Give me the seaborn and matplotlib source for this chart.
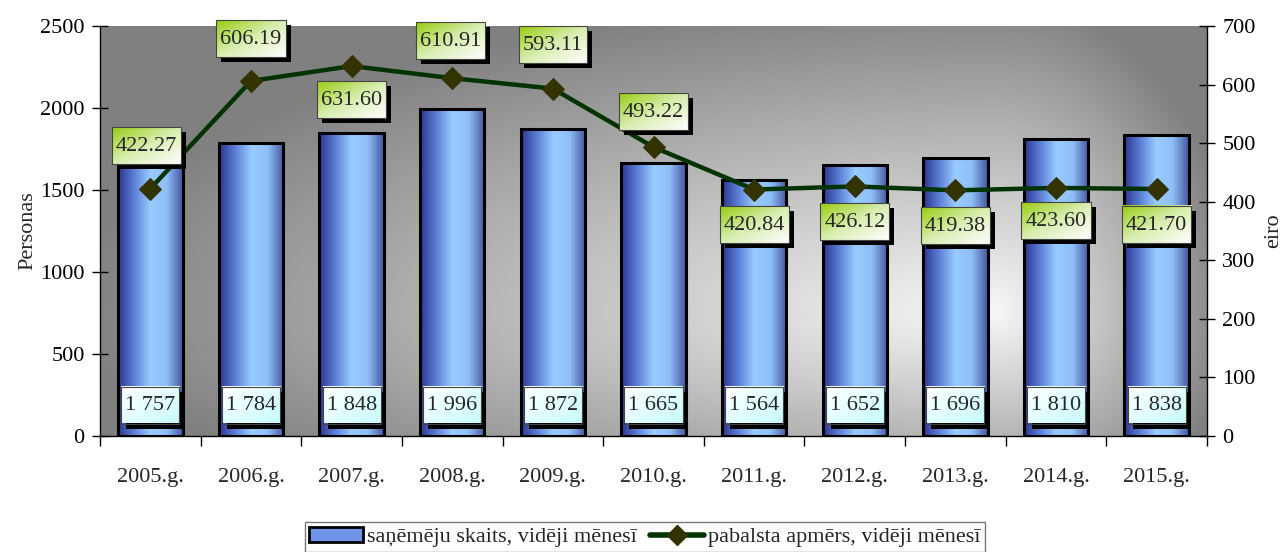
import numpy as np
import matplotlib
matplotlib.use("Agg")
import matplotlib.pyplot as plt
import seaborn as sns
from matplotlib.colors import LinearSegmentedColormap
from matplotlib.patches import Rectangle, Patch
from matplotlib.lines import Line2D

# ---------------------------------------
# Data
# ---------------------------------------
years = ["2005.g.", "2006.g.", "2007.g.", "2008.g.", "2009.g.", "2010.g.",
         "2011.g.", "2012.g.", "2013.g.", "2014.g.", "2015.g."]
recipients = [1757, 1784, 1848, 1996, 1872, 1665, 1564, 1652, 1696, 1810, 1838]
benefit = [422.27, 606.19, 631.60, 610.91, 593.11, 493.22,
           420.84, 426.12, 419.38, 423.60, 421.70]
# label offsets (pixels) for the line labels: up / down
line_lbl_dy = [42, 41, -34, 37, 43, 35, -36, -36, -36, -34, -36]
line_lbl_dx = [-4, 0, 0, -2, 0, 0, 0, 0, 0, 0, 0]

sns.set_style("ticks")
plt.rcParams["font.family"] = ["Liberation Serif", "DejaVu Serif"]
plt.rcParams["font.size"] = 16

fig = plt.figure(figsize=(12.85, 5.52), dpi=100)
ax = fig.add_axes([100 / 1285, 1 - 436 / 552, 1107 / 1285, 410 / 552])
ax2 = ax.twinx()

# ---------------------------------------
# Background gradient (plot area)
# ---------------------------------------
X, Y = np.meshgrid(np.linspace(0, 1, 400), np.linspace(0, 1, 200))
dx = np.where(X < 0.81, (X - 0.81) / 0.85, (X - 0.81) / 0.22)
dy = np.where(Y > 0.3, (Y - 0.3) / 0.78, (Y - 0.3) / 0.55)
v = np.clip(np.sqrt(dx ** 2 + dy ** 2), 0, 1)
bg = 0.97 - 0.47 * v
ax.imshow(bg, cmap="gray", vmin=0, vmax=1, extent=[0, 1, 0, 1], origin="lower",
          transform=ax.transAxes, aspect="auto", zorder=0, interpolation="bilinear")
ax.set_facecolor("none")

# ---------------------------------------
# Bars
# ---------------------------------------
sns.barplot(x=years, y=recipients, ax=ax, width=0.64, color="#6699ee",
            edgecolor="black", linewidth=2.2, zorder=2)
bar_cmap = LinearSegmentedColormap.from_list(
    "barg", ["#2c3590", "#5c7fd6", "#99ccff", "#8fbff7", "#45559f"])
grad = np.linspace(0, 1, 256).reshape(1, -1)
for p in ax.patches:
    x0, w, h = p.get_x(), p.get_width(), p.get_height()
    im = ax.imshow(grad, cmap=bar_cmap, extent=[x0, x0 + w, 0, h], aspect="auto",
                   zorder=1.5, interpolation="bilinear")
    im.set_clip_path(p)
    p.set_facecolor("none")
    p.set_zorder(2)

ax.set_xlim(-0.5, len(years) - 0.5)
ax.set_ylim(0, 2500)
ax.set_yticks(range(0, 2501, 500))
ax.set_ylabel("Personas", labelpad=2)
ax.set_xlabel("")

# ---------------------------------------
# Line (secondary axis)
# ---------------------------------------
xs = np.arange(len(years))
sns.lineplot(x=xs, y=benefit, ax=ax2, color="#003300", linewidth=3.2,
             marker="D", markersize=11, markerfacecolor="#333300",
             markeredgecolor="#333300", zorder=3)
ax2.set_ylim(0, 700)
ax2.set_yticks(range(0, 701, 100))
ax2.set_ylabel("eiro", labelpad=6)
ax2.set_xlim(-0.5, len(years) - 0.5)

# ticks and spines
for a in (ax, ax2):
    a.spines["top"].set_visible(False)
    for s in a.spines.values():
        s.set_color("black")
        s.set_linewidth(1)
ax.spines["right"].set_visible(False)
ax2.spines["left"].set_visible(False)
ax2.spines["bottom"].set_visible(False)
ax.tick_params(axis="y", direction="inout", length=12, width=1, pad=5, colors="black")
ax2.tick_params(axis="y", direction="inout", length=12, width=1, pad=5, colors="black")
ax.set_xticks(xs)
ax.set_xticklabels(years)
ax.set_xticks(np.arange(-0.5, len(years), 1), minor=True)
ax.tick_params(axis="x", which="major", length=0, pad=23)
ax.tick_params(axis="x", which="minor", length=7, width=1, direction="out", colors="black")

# ---------------------------------------
# Data labels
# ---------------------------------------
bar_texts = []
for i, val in enumerate(recipients):
    s = f"{val:,}".replace(",", " ")
    t = ax.annotate(s, (i, 0), xytext=(0, 30), textcoords="offset pixels",
                    ha="center", va="center", fontsize=16, zorder=8)
    bar_texts.append(t)

line_texts = []
for i, val in enumerate(benefit):
    t = ax2.annotate(f"{val:.2f}", (i, val), xytext=(line_lbl_dx[i], line_lbl_dy[i]),
                     textcoords="offset pixels", ha="center", va="center",
                     fontsize=16, zorder=8)
    line_texts.append(t)

fig.canvas.draw()
renderer = fig.canvas.get_renderer()

green_cmap = LinearSegmentedColormap.from_list("g", ["#99cc11", "#d8eeb0", "#ffffff"])
cyan_cmap = LinearSegmentedColormap.from_list("c", ["#ffffff", "#e4ffff", "#c6fbfb"])
diag = np.add.outer(np.linspace(0, 1, 40), np.linspace(0, 1, 80)) / 2


def boxify(a, t, cmap):
    bb = t.get_window_extent(renderer)
    padx, pady = 4, 10
    x0, x1 = bb.x0 - padx, bb.x1 + padx
    y0, y1 = bb.y0 - pady + 2, bb.y1 + pady
    inv = a.transAxes.inverted()
    (ax0, ay0), (ax1, ay1) = inv.transform([(x0, y0), (x1, y1)])
    (sx0, sy0), (sx1, sy1) = inv.transform([(x0 + 5, y0 - 5), (x1 + 5, y1 - 5)])
    a.add_patch(Rectangle((sx0, sy0), sx1 - sx0, sy1 - sy0, transform=a.transAxes,
                          facecolor="black", edgecolor="none", zorder=5, clip_on=False))
    a.imshow(diag, cmap=cmap, extent=[ax0, ax1, ay0, ay1], origin="upper",
             transform=a.transAxes, aspect="auto", zorder=6, clip_on=False,
             interpolation="bilinear")
    a.add_patch(Rectangle((ax0, ay0), ax1 - ax0, ay1 - ay0, transform=a.transAxes,
                          facecolor="none", edgecolor="#444444", linewidth=0.8,
                          zorder=7, clip_on=False))


for t in bar_texts:
    boxify(ax, t, cyan_cmap)
for t in line_texts:
    boxify(ax2, t, green_cmap)

ax.set_xlim(-0.5, len(years) - 0.5)
ax.set_ylim(0, 2500)
ax2.set_xlim(-0.5, len(years) - 0.5)
ax2.set_ylim(0, 700)

# ---------------------------------------
# Legend
# ---------------------------------------
handles = [Patch(facecolor="#6f94e8", edgecolor="black", linewidth=2),
           Line2D([0], [0], color="#003300", linewidth=4, marker="D", markersize=10,
                  markerfacecolor="#333300", markeredgecolor="#333300")]
labels = ["saņēmēju skaits, vidēji mēnesī", "pabalsta apmērs, vidēji mēnesī"]
leg = fig.legend(handles, labels, loc="center", bbox_to_anchor=(645 / 1285, 1 - 537 / 552),
                 ncol=2, frameon=True, fancybox=False, edgecolor="#555555",
                 fontsize=16, handlelength=2.4, handletextpad=0.2, columnspacing=0.6,
                 borderpad=0.2, borderaxespad=0)
leg.get_frame().set_linewidth(1)

fig.savefig("out.png", dpi=100)
